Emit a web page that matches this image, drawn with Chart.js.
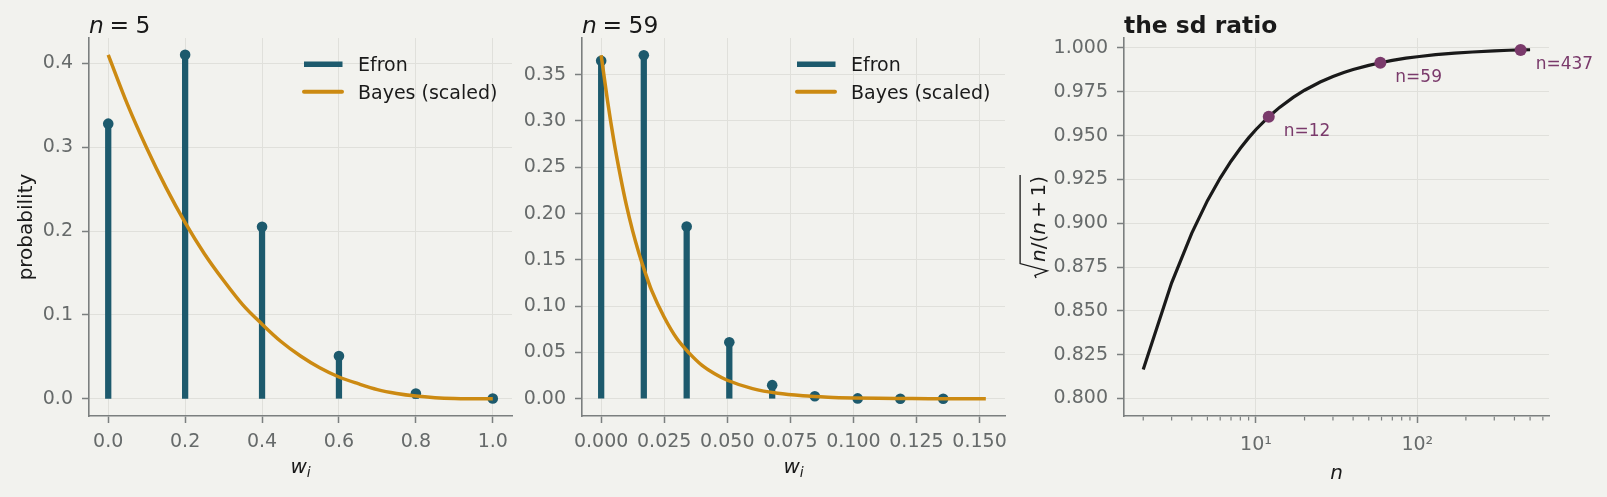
<!DOCTYPE html>
<html>
<head>
<meta charset="utf-8">
<script src="https://cdn.jsdelivr.net/npm/chart.js@4.4.0/dist/chart.umd.min.js"></script>
<style>
html, body { margin: 0; padding: 0; background: #f2f2ee; }
#fig { position: relative; width: 1607px; height: 497px; background: #f2f2ee; overflow: hidden; }
#fig canvas { position: absolute; top: 0; }
</style>
</head>
<body>
<div id="fig">
  <canvas id="c1" width="540" height="497" style="left:0px"></canvas>
  <canvas id="c2" width="500" height="497" style="left:520px"></canvas>
  <canvas id="c3" width="607" height="497" style="left:1000px"></canvas>
</div>
<script>
// ---- n = 5 ----
var efronW5 = [0, 0.2, 0.4, 0.6, 0.8, 1.0];
var efronP5 = [0.328, 0.410, 0.205, 0.051, 0.0064, 0.0003];
var bayesW5 = [0, 0.05, 0.1, 0.15, 0.2, 0.25, 0.3, 0.35, 0.4, 0.45, 0.5,
               0.55, 0.6, 0.65, 0.7, 0.75, 0.8, 0.85, 0.9, 0.95, 1.0];
var bayesP5 = [0.410, 0.351, 0.299, 0.252, 0.210, 0.173, 0.141, 0.112, 0.089, 0.068, 0.051,
               0.037, 0.026, 0.018, 0.011, 0.0064, 0.0033, 0.0014, 0.0004, 0.0001, 0];
var xTicks5 = [0, 0.2, 0.4, 0.6, 0.8, 1.0];
var yTicks5 = [0, 0.1, 0.2, 0.3, 0.4];

// ---- n = 59 ----
var efronW59 = [0, 0.0169, 0.0339, 0.0508, 0.0678, 0.0847, 0.1017, 0.1186, 0.1356];
var efronP59 = [0.365, 0.371, 0.186, 0.061, 0.0147, 0.0028, 0.0004, 0.0001, 0];
var bayesW59 = [0, 0.0025, 0.005, 0.0075, 0.01, 0.0125, 0.015, 0.0175, 0.02, 0.025, 0.03,
                0.035, 0.04, 0.045, 0.05, 0.06, 0.07, 0.08, 0.09, 0.10, 0.11, 0.12, 0.13,
                0.14, 0.1525];
var bayesP59 = [0.371, 0.322, 0.279, 0.242, 0.209, 0.181, 0.157, 0.136, 0.117, 0.088, 0.065,
                0.049, 0.036, 0.027, 0.020, 0.011, 0.0059, 0.0032, 0.0017, 0.0009, 0.0005, 0.0003, 0.0001,
                0.0001, 0];
var xTicks59 = [0, 0.025, 0.05, 0.075, 0.1, 0.125, 0.15];
var yTicks59 = [0, 0.05, 0.1, 0.15, 0.2, 0.25, 0.3, 0.35];

// ---- sd ratio ----
var ratioN = [2, 3, 4, 5, 6, 7, 8, 9, 10, 12, 14, 17, 20, 25, 30, 35, 40, 50, 59, 70, 85,
              100, 130, 170, 220, 300, 370, 437, 500];
var ratioV = [0.8165, 0.8660, 0.8944, 0.9129, 0.9258, 0.9354, 0.9428, 0.9487, 0.9535, 0.9608,
              0.9661, 0.9718, 0.9759, 0.9806, 0.9837, 0.9860, 0.9877, 0.9901, 0.9916, 0.9929,
              0.9942, 0.9950, 0.9962, 0.9971, 0.9977, 0.9983, 0.9987, 0.9989, 0.9990];
var markN = [12, 59, 437];
var markV = [0.9608, 0.9916, 0.9989];
var markLabels = ['n=12', 'n=59', 'n=437'];
var xTicksR = [10, 100];
var xMinorR = [2, 3, 4, 5, 6, 7, 8, 9, 20, 30, 40, 50, 60, 70, 80, 90, 200, 300, 400, 500, 600];
var yTicksR = [0.8, 0.825, 0.85, 0.875, 0.9, 0.925, 0.95, 0.975, 1.0];

var FONT = '"DejaVu Sans", sans-serif';
var TEAL = '#1d5a6d', ORANGE = '#cc8a12', PURPLE = '#7a3a6b', INK = '#1a1a1a';
var TICKTXT = '#666a6a', SPINE = '#7b7f7f', GRID = '#e0e0db';
var TOP = 38, BOTTOM = 416, H = 497;

Chart.defaults.font.family = FONT;
Chart.defaults.font.size = 19;

var pts = function(xs, ys){
  return xs.map(function(x, i){ return {x: x, y: ys[i]}; });
};

var axis = function(type, min, max, ticks, fmt, fit, pad){
  return {
    type: type, min: min, max: max, offset: false,
    afterBuildTicks: function(s){ s.ticks = ticks.map(function(v){ return {value: v}; }); },
    afterFit: fit,
    ticks: {callback: fmt, color: TICKTXT, padding: pad, autoSkip: false, maxRotation: 0, font: {size: 19}},
    grid: {color: GRID, lineWidth: 1, tickColor: SPINE, tickLength: 7, tickWidth: 1.5, offset: false},
    border: {display: true, color: SPINE, width: 1.6}
  };
};

// draw a run of mixed upright / italic text, returns its width
var runs = function(ctx, parts, x, y, size, draw){
  var w = 0;
  parts.forEach(function(p){
    var s = size * (p.sc || 1);
    w += (p.gap || 0) * size;
    ctx.font = (p.b ? 'bold ' : '') + (p.it ? 'italic ' : '') + s + 'px ' + FONT;
    if(draw) ctx.fillText(p.t, x + w, y + (p.dy || 0) * size);
    w += ctx.measureText(p.t).width;
  });
  return w;
};

var decor = function(cfg){
  return {
    id: 'decor',
    afterDraw: function(chart){
      var ctx = chart.ctx, a = chart.chartArea;
      ctx.save();
      ctx.fillStyle = INK;
      ctx.textBaseline = 'alphabetic';
      // title
      runs(ctx, cfg.title, a.left, 32.5, 23.4, true);
      // x label
      var wx = runs(ctx, cfg.xlabel, 0, 0, 20, false);
      runs(ctx, cfg.xlabel, (a.left + a.right) / 2 - wx / 2, cfg.xlabelY, 20, true);
      // y label
      if(cfg.ylabel){
        ctx.save();
        ctx.translate(cfg.ylabelX, (a.top + a.bottom) / 2);
        ctx.rotate(-Math.PI / 2);
        ctx.textAlign = 'center';
        ctx.font = '20px ' + FONT;
        ctx.fillText(cfg.ylabel, 0, 0);
        ctx.restore();
      }
      if(cfg.sqrtLabel){
        var f = 20;
        ctx.save();
        ctx.translate(cfg.sqrtLabel, (a.top + a.bottom) / 2);
        ctx.rotate(-Math.PI / 2);
        var body = [{t: 'n', it: true}, {t: '/'}, {t: '('}, {t: 'n', it: true},
                    {t: '+', gap: 0.22}, {t: '1', gap: 0.22}, {t: ')'}];
        var bw = runs(ctx, body, 0, 0, f, false);
        var u0 = -(bw + 0.8 * f) / 2;
        ctx.strokeStyle = INK;
        ctx.lineWidth = 1.3;
        ctx.lineJoin = 'miter';
        ctx.beginPath();
        ctx.moveTo(u0, -0.42 * f);
        ctx.lineTo(u0 + 0.13 * f, -0.48 * f);
        ctx.lineTo(u0 + 0.36 * f, 0.14 * f);
        ctx.lineTo(u0 + 0.72 * f, -1.22 * f);
        ctx.lineTo(u0 + 0.8 * f + bw + 0.05 * f, -1.22 * f);
        ctx.stroke();
        runs(ctx, body, u0 + 0.8 * f, 0, f, true);
        ctx.restore();
      }
      // legend
      if(cfg.legend){
        cfg.legend.forEach(function(e, i){
          var y = a.top + 26.3 + i * 27.4;
          ctx.strokeStyle = e.color;
          ctx.lineWidth = e.width;
          ctx.lineCap = e.cap;
          ctx.beginPath();
          ctx.moveTo(a.right - e.x0, y);
          ctx.lineTo(a.right - e.x1, y);
          ctx.stroke();
          ctx.fillStyle = INK;
          ctx.font = '19px ' + FONT;
          ctx.fillText(e.label, a.right - 154, y + 6.9);
        });
      }
      // annotations next to highlighted points
      if(cfg.notes){
        var xs = chart.scales.x, ys = chart.scales.y;
        ctx.fillStyle = PURPLE;
        ctx.font = '17px ' + FONT;
        cfg.notes.n.forEach(function(n, i){
          ctx.fillText(cfg.notes.labels[i], xs.getPixelForValue(n) + 15, ys.getPixelForValue(cfg.notes.v[i]) + 19);
        });
      }
      // minor log ticks
      if(cfg.minor){
        var sx = chart.scales.x;
        ctx.strokeStyle = SPINE;
        ctx.lineWidth = 1.2;
        cfg.minor.forEach(function(v){
          var px = sx.getPixelForValue(v);
          if(px < a.left || px > a.right) return;
          ctx.beginPath();
          ctx.moveTo(px, a.bottom + 0.8);
          ctx.lineTo(px, a.bottom + 4.5);
          ctx.stroke();
        });
      }
      ctx.restore();
    }
  };
};

var legendEntries = [
  {label: 'Efron', color: TEAL, width: 5.5, cap: 'butt', x0: 208, x1: 169.5},
  {label: 'Bayes (scaled)', color: ORANGE, width: 4, cap: 'round', x0: 208, x1: 170}
];

var makeStemChart = function(id, cx, cw, left, right, xr, yr, xt, yt, xf, yf, ew, ep, bw, bp, title){
  return new Chart(document.getElementById(id), {
    type: 'scatter',
    data: {
      datasets: [
        {type: 'line', data: pts(bw, bp), borderColor: ORANGE, borderWidth: 3.5, pointRadius: 0,
         cubicInterpolationMode: 'monotone', fill: false, order: 1},
        {type: 'scatter', data: pts(ew, ep), pointRadius: 5.3, pointBackgroundColor: TEAL,
         pointBorderWidth: 0, order: 2},
        {type: 'bar', data: pts(ew, ep), backgroundColor: TEAL, barThickness: 5.6, grouped: false, order: 3}
      ]
    },
    options: {
      responsive: false, animation: false, events: [],
      layout: {padding: {top: TOP, left: 0, right: cx + cw - right, bottom: 0}},
      plugins: {legend: {display: false}, tooltip: {enabled: false}},
      scales: {
        x: axis('linear', xr[0], xr[1], xt, xf, function(s){ s.height = H - BOTTOM; }, 8),
        y: axis('linear', yr[0], yr[1], yt, yf, function(s){ s.width = left - cx; }, 9)
      }
    },
    plugins: [decor({
      title: title,
      xlabel: [{t: 'w', it: true}, {t: 'i', it: true, sc: 0.7, dy: 0.2}],
      xlabelY: 472.7,
      ylabel: id === 'c1' ? 'probability' : null,
      ylabelX: 32.2,
      legend: legendEntries
    })]
  });
};

makeStemChart('c1', 0, 540, 89, 512, [-0.05, 1.05], [-0.0205, 0.4301], xTicks5, yTicks5,
  function(v){ return v.toFixed(1); }, function(v){ return v.toFixed(1); },
  efronW5, efronP5, bayesW5, bayesP5,
  [{t: 'n', it: true}, {t: '=', gap: 0.24}, {t: '5', gap: 0.28}]);

makeStemChart('c2', 520, 500, 582, 1005, [-0.0076, 0.1601], [-0.0186, 0.3896], xTicks59, yTicks59,
  function(v){ return v.toFixed(3); }, function(v){ return v.toFixed(2); },
  efronW59, efronP59, bayesW59, bayesP59,
  [{t: 'n', it: true}, {t: '=', gap: 0.24}, {t: '59', gap: 0.28}]);

var sup = {10: '10\u00b9', 100: '10\u00b2'};
new Chart(document.getElementById('c3'), {
  type: 'scatter',
  data: {
    datasets: [
      {type: 'scatter', data: pts(markN, markV), pointRadius: 6, pointBackgroundColor: PURPLE,
       pointBorderWidth: 0, order: 1},
      {type: 'line', data: pts(ratioN, ratioV), borderColor: INK, borderWidth: 3.2, pointRadius: 0,
       tension: 0, fill: false, order: 2}
    ]
  },
  options: {
    responsive: false, animation: false, events: [],
    layout: {padding: {top: TOP, left: 0, right: 1607 - 1549, bottom: 0}},
    plugins: {legend: {display: false}, tooltip: {enabled: false}},
    scales: {
      x: axis('logarithmic', 1.52, 655, xTicksR, function(v){ return sup[v]; },
              function(s){ s.height = H - BOTTOM; }, 11),
      y: axis('linear', 0.79, 1.0057, yTicksR, function(v){ return v.toFixed(3); },
              function(s){ s.width = 1124 - 1000; }, 9)
    }
  },
  plugins: [decor({
    title: [{t: 'the sd ratio', b: true}],
    xlabel: [{t: 'n', it: true}],
    xlabelY: 478.5,
    sqrtLabel: 44.5,
    notes: {n: markN, v: markV, labels: markLabels},
    minor: xMinorR
  })]
});
</script>
</body>
</html>
